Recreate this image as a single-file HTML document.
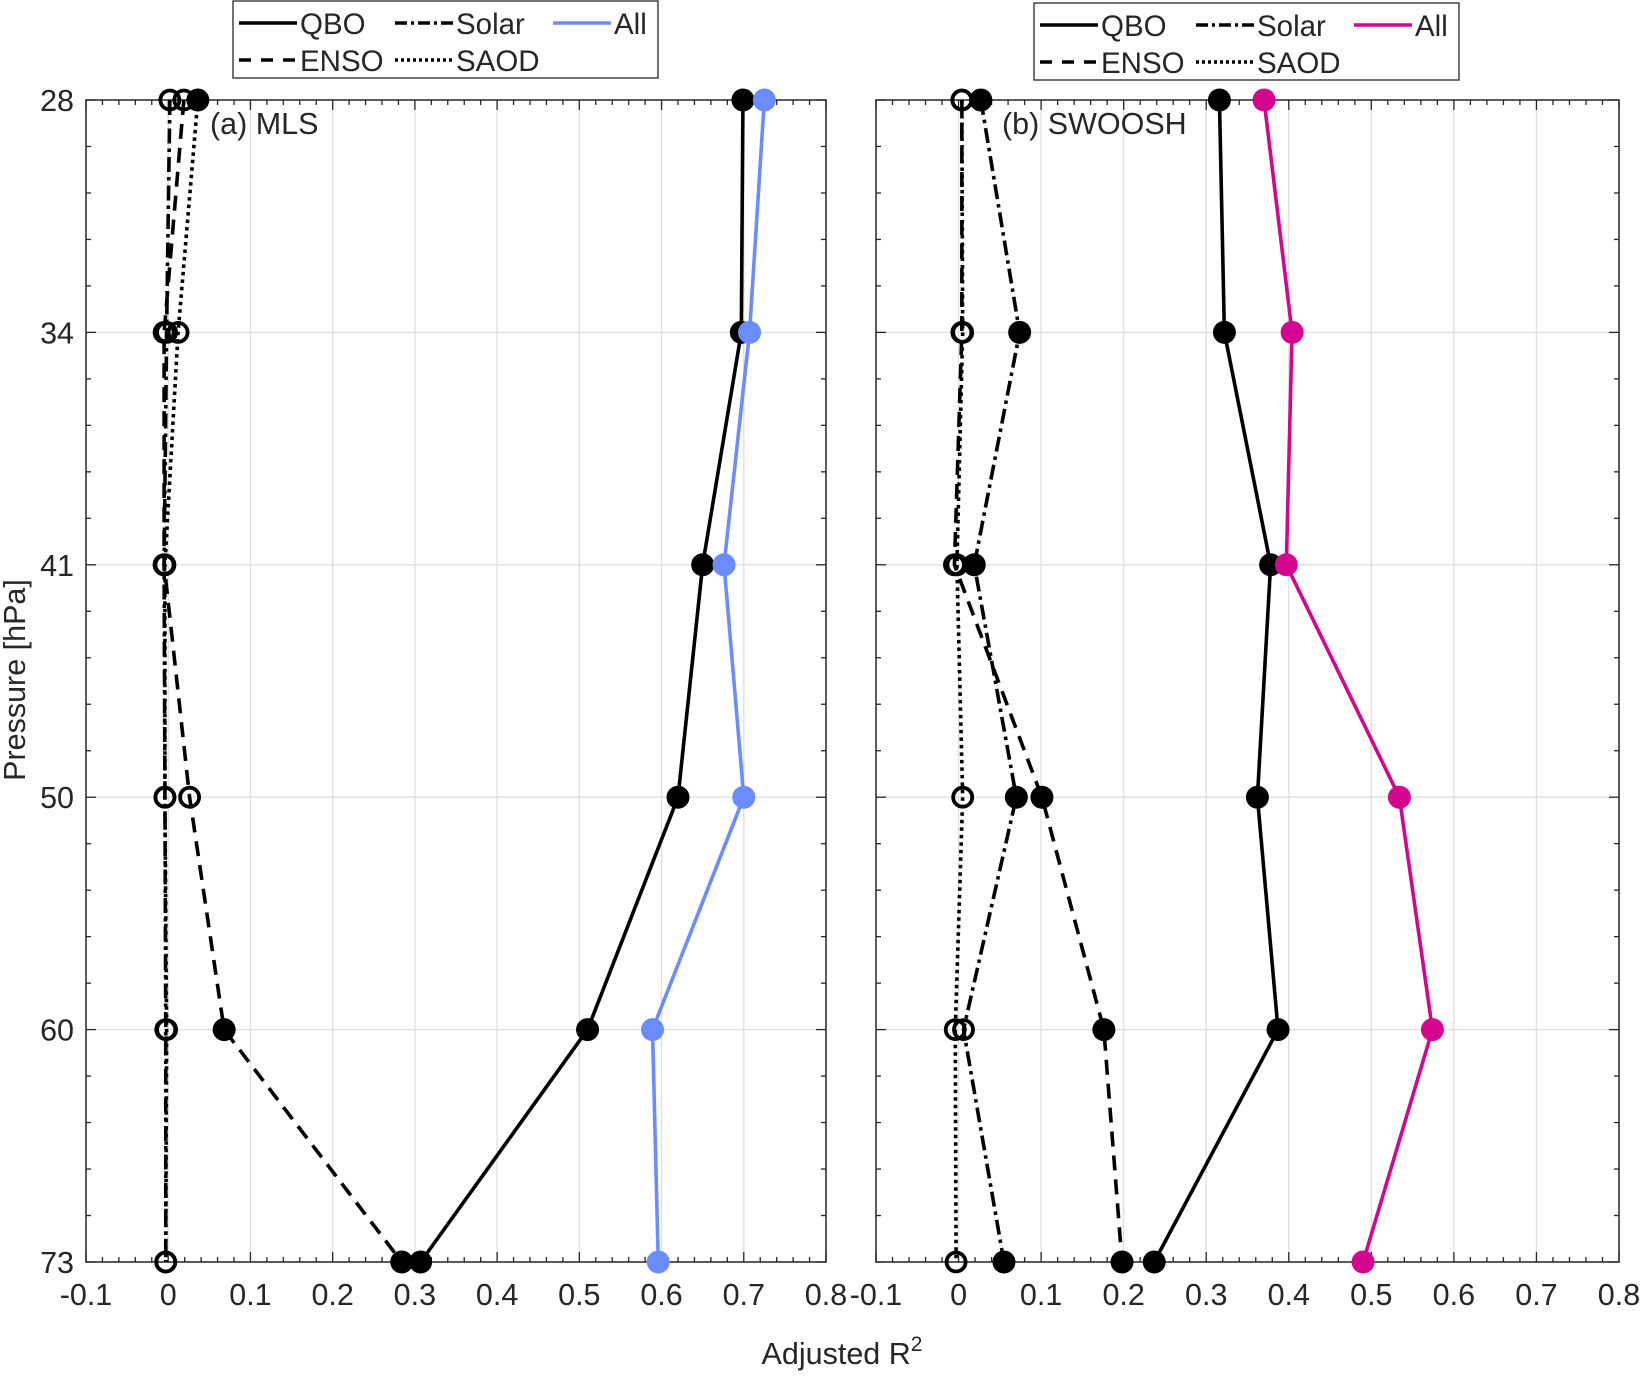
<!DOCTYPE html>
<html><head><meta charset="utf-8"><style>
html,body{margin:0;padding:0;background:#fff}
svg text{font-family:"Liberation Sans",sans-serif;fill:#262626}
</style></head><body>
<svg id="chart" width="1640" height="1371" viewBox="0 0 1640 1371" xmlns="http://www.w3.org/2000/svg"></svg>
<script>
const pressures = ["28","34","41","50","60","73"];
const xTicks = ["-0.1","0","0.1","0.2","0.3","0.4","0.5","0.6","0.7","0.8"];
// MLS
const mlsQBO   = [0.699,0.697,0.650,0.620,0.510,0.307];
const mlsAll   = [0.725,0.707,0.676,0.700,0.589,0.596];
const mlsENSO  = [0.019,-0.005,-0.005,0.026,0.068,0.284];
const mlsSolar = [0.002,-0.002,-0.005,-0.004,-0.003,-0.003];
const mlsSAOD  = [0.036,0.012,-0.004,-0.004,-0.002,-0.003];
const mlsENSOFill  = [0,0,0,0,1,1];
const mlsSolarFill = [0,0,0,0,0,0];
const mlsSAODFill  = [1,0,0,0,0,0];
// SWOOSH
const swQBO   = [0.316,0.322,0.378,0.362,0.387,0.237];
const swAll   = [0.370,0.404,0.397,0.534,0.574,0.490];
const swENSO  = [0.004,0.004,-0.005,0.101,0.176,0.198];
const swSolar = [0.027,0.074,0.019,0.070,0.006,0.055];
const swSAOD  = [0.004,0.005,-0.002,0.005,-0.004,-0.003];
const swENSOFill  = [0,0,0,1,1,1];
const swSolarFill = [1,1,1,1,0,1];
const swSAODFill  = [0,0,0,0,0,0];

const NS="http://www.w3.org/2000/svg";
const svg=document.getElementById('chart');
function mk(tag,attrs,parent){const e=document.createElementNS(NS,tag);for(const k in attrs)e.setAttribute(k,attrs[k]);(parent||svg).appendChild(e);return e;}
const TOP=100, BOT=1262;
function yPos(i){return TOP+(BOT-TOP)*i/(pressures.length-1);}

function panel(name,L,R,series,label,allColor){
  const g=mk('g',{});
  
  
  const xs=v=>L+(v+0.1)/0.9*(R-L);
  for(let i=1;i<xTicks.length-1;i++){const x=xs(parseFloat(xTicks[i]));mk('line',{x1:x,x2:x,y1:TOP,y2:BOT,stroke:'#dfdfdf','stroke-width':1.3},g);}
  for(let i=1;i<pressures.length-1;i++){mk('line',{x1:L,x2:R,y1:yPos(i),y2:yPos(i),stroke:'#dfdfdf','stroke-width':1.3},g);}
  mk('rect',{x:L,y:TOP,width:R-L,height:BOT-TOP,fill:'none',stroke:'#262626','stroke-width':1.5},g);
  for(let k=0;k<=45;k++){const v=-0.1+k*0.02;const x=xs(v);const len=(k%5===0)?10:5;
    mk('line',{x1:x,x2:x,y1:BOT,y2:BOT-len,stroke:'#262626','stroke-width':1.3},g);
    mk('line',{x1:x,x2:x,y1:TOP,y2:TOP+len,stroke:'#262626','stroke-width':1.3},g);}
  xTicks.forEach(t=>{const tx=mk('text',{x:xs(parseFloat(t)),y:BOT+43,'font-size':30.5,'text-anchor':'middle'},g);tx.textContent=t;
    });
  const n=pressures.length-1;
  for(let k=0;k<=n*5;k++){const y=TOP+(BOT-TOP)*k/(n*5);const len=(k%5===0)?10:5;
    mk('line',{x1:L,x2:L+len,y1:y,y2:y,stroke:'#262626','stroke-width':1.3},g);
    mk('line',{x1:R,x2:R-len,y1:y,y2:y,stroke:'#262626','stroke-width':1.3},g);}
  if(name==='panel-mls'){pressures.forEach((p,i)=>{const tx=mk('text',{x:L-12,y:yPos(i)+11,'font-size':30.5,'text-anchor':'end'},g);tx.textContent=p;
    });}
  const lab=mk('text',{x:L+(name==='panel-mls'?124:126),y:134,'font-size':30.5,fill:'#000'},g);lab.textContent=label;
  
  series.forEach(s=>{
    const sg=mk('g',{},g);
    
    
    const pts=s.vals.map((v,i)=>xs(v)+','+yPos(i)).join(' ');
    const a={points:pts,fill:'none',stroke:s.color,'stroke-width':3.6,'stroke-linejoin':'round'};
    if(s.dash)a['stroke-dasharray']=s.dash;
    mk('polyline',a,sg);
    s.vals.forEach((v,i)=>{const f=s.fill?s.fill[i]:1;
      const c=mk('circle',{cx:xs(v),cy:yPos(i),r:f?11.5:9.5,fill:f?s.color:'none',stroke:s.color,'stroke-width':f?0:3.8},sg);
      });
  });
}
panel('panel-mls',86,826,[
  {name:'saod-line',vals:mlsSAOD,fill:mlsSAODFill,color:'#000',dash:'3.5 4'},
  {name:'solar-line',vals:mlsSolar,fill:mlsSolarFill,color:'#000',dash:'15 5 3.5 5'},
  {name:'enso-line',vals:mlsENSO,fill:mlsENSOFill,color:'#000',dash:'15 9'},
  {name:'qbo-line',vals:mlsQBO,color:'#000'},
  {name:'all-line',vals:mlsAll,color:'#6a8cff'}],'(a) MLS');
panel('panel-swoosh',876,1619,[
  {name:'saod-line',vals:swSAOD,fill:swSAODFill,color:'#000',dash:'3.5 4'},
  {name:'solar-line',vals:swSolar,fill:swSolarFill,color:'#000',dash:'15 5 3.5 5'},
  {name:'enso-line',vals:swENSO,fill:swENSOFill,color:'#000',dash:'15 9'},
  {name:'qbo-line',vals:swQBO,color:'#000'},
  {name:'all-line',vals:swAll,color:'#d4068f'}],'(b) SWOOSH');

function legend(name,x,y,allColor){
  const g=mk('g',{});
  
  
  mk('rect',{x:x,y:y,width:425,height:77,fill:'#fff',stroke:'#262626','stroke-width':1.3},g);
  const items=[
    {t:'QBO',dx:6,dy:22,c:'#000',d:null},
    {t:'Solar',dx:162,dy:22,c:'#000',d:'12 4 3 4'},
    {t:'All',dx:320,dy:22,c:allColor,d:null},
    {t:'ENSO',dx:6,dy:59,c:'#000',d:'12 10'},
    {t:'SAOD',dx:162,dy:59,c:'#000',d:'3 3'}];
  items.forEach(it=>{const e=mk('g',{},g);
    
    
    const a={x1:x+it.dx,x2:x+it.dx+58,y1:y+it.dy,y2:y+it.dy,stroke:it.c,'stroke-width':3.6};
    if(it.d)a['stroke-dasharray']=it.d;
    mk('line',a,e);
    const tx=mk('text',{x:x+it.dx+61,y:y+it.dy+11,'font-size':29.5,fill:'#000'},e);tx.textContent=it.t;});
}
legend('legend-mls',233,1,'#6a8cff');
legend('legend-swoosh',1034,3,'#d4068f');

const yl=mk('text',{x:0,y:0,'font-size':30.5,'text-anchor':'middle',transform:'translate(25,680) rotate(-90)'});
yl.textContent='Pressure [hPa]';

const xl=mk('text',{x:842,y:1364,'font-size':30.5,'text-anchor':'middle'});
xl.innerHTML='Adjusted R<tspan dy="-13" font-size="21">2</tspan>';

</script>
</body></html>
